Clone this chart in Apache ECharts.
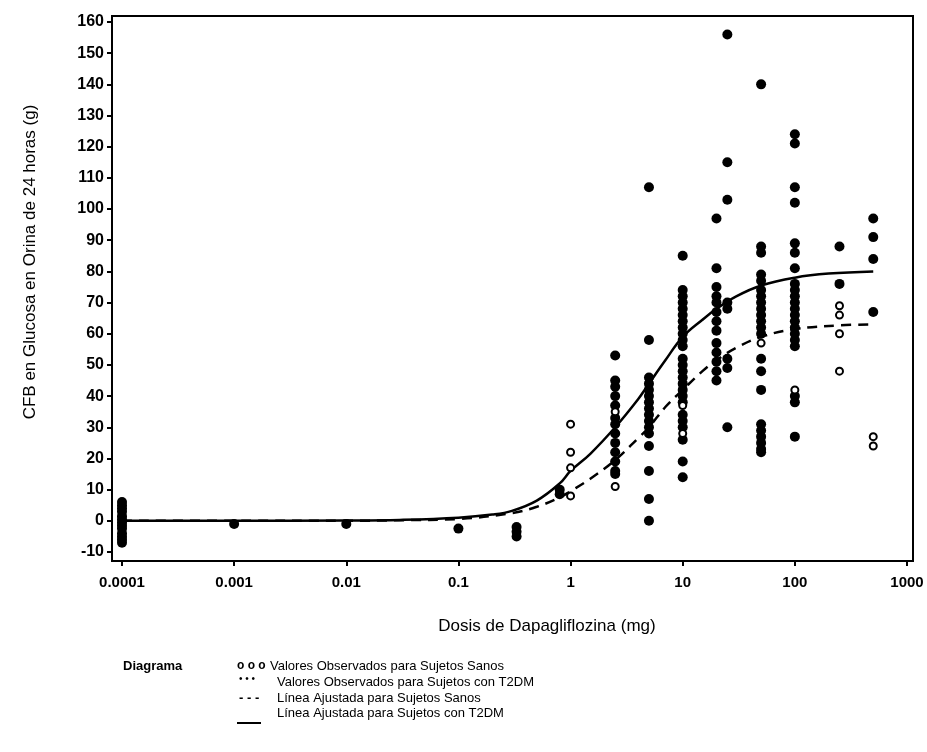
<!DOCTYPE html>
<html>
<head>
<meta charset="utf-8">
<script src="https://cdn.jsdelivr.net/npm/echarts@6/dist/echarts.min.js"></script>
<style>
  html, body { margin: 0; padding: 0; background: #fff; }
  #chart { width: 927px; height: 752px; }
</style>
</head>
<body>
<div id="chart"></div>
<script>
// ---------------- datos ----------------
var xTickLabels = ['0.0001', '0.001', '0.01', '0.1', '1', '10', '100', '1000'];

// valores observados, sujetos sanos (circulos abiertos) [dosis, CFB]
var sanosObs = [
    [1, 31], [1, 22], [1, 17], [1, 8],
    [2.5, 35], [2.5, 11],
    [10, 37], [10, 28],
    [50, 57],
    [100, 42],
    [250, 69], [250, 66], [250, 60], [250, 48],
    [500, 27], [500, 24]
];

// valores observados, sujetos con T2DM (puntos llenos)
var t2dmObs = [
    [0.0001, 6], [0.0001, 5], [0.0001, 4], [0.0001, 3], [0.0001, 1.5], [0.0001, 0.5], [0.0001, -0.5],
    [0.0001, -1.5], [0.0001, -2.5], [0.0001, -4], [0.0001, -5], [0.0001, -6], [0.0001, -7],
    [0.001, -1], [0.01, -1], [0.1, -2.5],
    [0.33, -2], [0.33, -3.5], [0.33, -5],
    [0.8, 10], [0.8, 8.5],
    [2.5, 53], [2.5, 45], [2.5, 43], [2.5, 40], [2.5, 37], [2.5, 33], [2.5, 31], [2.5, 28],
    [2.5, 25], [2.5, 22], [2.5, 19], [2.5, 16], [2.5, 15],
    [5, 107], [5, 58], [5, 46], [5, 44], [5, 42], [5, 40], [5, 38], [5, 36], [5, 34], [5, 32],
    [5, 30], [5, 28], [5, 24], [5, 16], [5, 7], [5, 0],
    [10, 85], [10, 74], [10, 72], [10, 70], [10, 68], [10, 66], [10, 64], [10, 62], [10, 60],
    [10, 58], [10, 56], [10, 52], [10, 50], [10, 48], [10, 46], [10, 44], [10, 42], [10, 40],
    [10, 38], [10, 34], [10, 32], [10, 30], [10, 26], [10, 19], [10, 14],
    [20, 97], [20, 81], [20, 75], [20, 72], [20, 70], [20, 67], [20, 64], [20, 61], [20, 57],
    [20, 54], [20, 51], [20, 48], [20, 45],
    [25, 156], [25, 115], [25, 103], [25, 70], [25, 68], [25, 52], [25, 49], [25, 30],
    [50, 140], [50, 88], [50, 86], [50, 79], [50, 77], [50, 74], [50, 72], [50, 70], [50, 68],
    [50, 66], [50, 64], [50, 62], [50, 60], [50, 52], [50, 48], [50, 42], [50, 31], [50, 29],
    [50, 27], [50, 25], [50, 23], [50, 22],
    [100, 124], [100, 121], [100, 107], [100, 102], [100, 89], [100, 86], [100, 81], [100, 76],
    [100, 74], [100, 72], [100, 70], [100, 68], [100, 66], [100, 64], [100, 62], [100, 60],
    [100, 58], [100, 56], [100, 40], [100, 38], [100, 27],
    [250, 88], [250, 76],
    [500, 97], [500, 91], [500, 84], [500, 67]
];

// linea ajustada, sujetos sanos (discontinua)
var sanosAjuste = [
    [0.0001, 0], [0.001, 0], [0.01, 0], [0.03, 0.2], [0.1, 0.6], [0.3, 2.5], [0.5, 4.5],
    [0.8, 7.5], [1, 9.5], [1.5, 13.5], [2.5, 19.5], [4, 26.5], [5, 30], [7, 36.5], [10, 42],
    [15, 48], [20, 51.5], [30, 55.5], [50, 59], [100, 61.5], [250, 62.7], [500, 63]
];

// linea ajustada, sujetos con T2DM (continua)
var t2dmAjuste = [
    [0.0001, 0], [0.001, 0], [0.01, 0.1], [0.03, 0.3], [0.1, 1], [0.2, 2], [0.3, 3.2],
    [0.5, 6.5], [0.8, 12], [1, 16], [1.5, 21.5], [2.5, 30], [4, 39], [5, 44], [7, 51.5],
    [10, 59], [15, 64.5], [20, 68], [30, 72], [50, 75.5], [100, 78], [200, 79.3], [500, 80]
];

// ---------------- grafico ----------------
var dom = document.getElementById('chart');
var chart = echarts.init(dom, null, { renderer: 'canvas' });
var FONT = 'Liberation Sans';

var leyendaX = 277;
var filas = [666, 682, 698, 713];

var option = {
    animation: false,
    backgroundColor: '#fff',
    grid: [
        // marco
        { left: 112, right: 14, top: 16, bottom: 191, show: true, borderColor: '#000', borderWidth: 2, backgroundColor: 'transparent' },
        // area de datos
        { left: 122, right: 20, top: 22, bottom: 200 }
    ],
    xAxis: [
        { gridIndex: 0, type: 'value', show: false, min: 0, max: 1 },
        {
            gridIndex: 1,
            type: 'log',
            logBase: 10,
            min: 0.0001,
            max: 1000,
            offset: 9,
            axisLine: { show: false, onZero: false },
            axisTick: { show: true, inside: false, length: 5, lineStyle: { color: '#000', width: 2 } },
            axisLabel: {
                fontFamily: FONT, fontSize: 15, fontWeight: 'bold', color: '#000', margin: 14,
                formatter: function (v, i) { return xTickLabels[i]; }
            },
            splitLine: { show: false },
            minorTick: { show: false }
        }
    ],
    yAxis: [
        { gridIndex: 0, type: 'value', show: false, min: 0, max: 1 },
        {
            gridIndex: 1,
            type: 'value',
            min: -10,
            max: 160,
            interval: 10,
            offset: 10,
            axisLine: { show: false, onZero: false },
            axisTick: { show: true, inside: false, length: 5, lineStyle: { color: '#000', width: 2 } },
            axisLabel: { fontFamily: FONT, fontSize: 16, fontWeight: 'bold', color: '#000', margin: 8 },
            splitLine: { show: false }
        }
    ],
    series: [
        {
            name: 'Línea Ajustada para Sujetos Sanos',
            type: 'line',
            xAxisIndex: 1, yAxisIndex: 1,
            data: sanosAjuste,
            smooth: 0.4,
            showSymbol: false,
            lineStyle: { color: '#000', width: 2.5, type: [10, 7] },
            z: 3
        },
        {
            name: 'Línea Ajustada para Sujetos con T2DM',
            type: 'line',
            xAxisIndex: 1, yAxisIndex: 1,
            data: t2dmAjuste,
            smooth: 0.4,
            showSymbol: false,
            lineStyle: { color: '#000', width: 2.5, type: 'solid' },
            z: 3
        },
        {
            name: 'Valores Observados para Sujetos con T2DM',
            type: 'scatter',
            xAxisIndex: 1, yAxisIndex: 1,
            data: t2dmObs,
            symbol: 'circle',
            symbolSize: 10,
            itemStyle: { color: '#000', opacity: 1 },
            z: 4
        },
        {
            name: 'Valores Observados para Sujetos Sanos',
            type: 'scatter',
            xAxisIndex: 1, yAxisIndex: 1,
            data: sanosObs,
            symbol: 'circle',
            symbolSize: 7,
            itemStyle: { color: '#fff', borderColor: '#000', borderWidth: 2, opacity: 1 },
            z: 5
        }
    ],
    graphic: [
        // titulos de ejes
        { type: 'text', x: 30, y: 262, rotation: Math.PI / 2, style: { text: 'CFB en Glucosa en Orina de 24 horas (g)', fill: '#000', font: '17px "Liberation Sans"', align: 'center', verticalAlign: 'middle' } },
        { type: 'text', x: 547, y: 626, style: { text: 'Dosis de Dapagliflozina (mg)', fill: '#000', font: '17px "Liberation Sans"', align: 'center', verticalAlign: 'middle' } },
        // leyenda
        { type: 'text', x: 123, y: filas[0], style: { text: 'Diagrama', fill: '#000', font: 'bold 13px "Liberation Sans"', verticalAlign: 'middle' } },
        { type: 'text', x: 237, y: filas[0], style: { text: 'o o o', fill: '#000', font: 'bold 12px "Liberation Sans"', verticalAlign: 'middle' } },
        { type: 'text', x: 270, y: filas[0], style: { text: 'Valores Observados para Sujetos Sanos', fill: '#000', font: '13px "Liberation Sans"', verticalAlign: 'middle' } },
        { type: 'text', x: 239, y: filas[1] - 3, style: { text: '• • •', fill: '#000', font: '10px "Liberation Sans"', verticalAlign: 'middle' } },
        { type: 'text', x: leyendaX, y: filas[1], style: { text: 'Valores Observados para Sujetos con T2DM', fill: '#000', font: '13px "Liberation Sans"', verticalAlign: 'middle' } },
        { type: 'text', x: 239, y: filas[2], style: { text: '- - -', fill: '#000', font: 'bold 13px "Liberation Sans"', verticalAlign: 'middle' } },
        { type: 'text', x: leyendaX, y: filas[2], style: { text: 'Línea Ajustada para Sujetos Sanos', fill: '#000', font: '13px "Liberation Sans"', verticalAlign: 'middle' } },
        { type: 'text', x: leyendaX, y: filas[3], style: { text: 'Línea Ajustada para Sujetos con T2DM', fill: '#000', font: '13px "Liberation Sans"', verticalAlign: 'middle' } },
        { type: 'line', shape: { x1: 237, y1: filas[3] + 10, x2: 261, y2: filas[3] + 10 }, style: { stroke: '#000', lineWidth: 2 } }
    ]
};

if (option && typeof option === 'object') {
    chart.setOption(option, true);
}
</script>
</body>
</html>
